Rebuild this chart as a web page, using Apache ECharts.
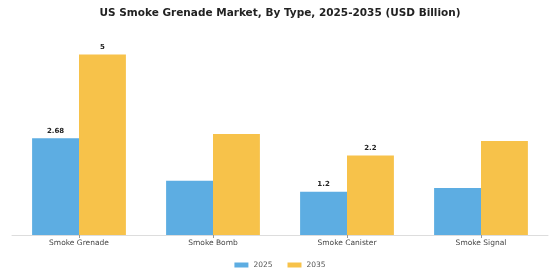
<!DOCTYPE html>
<html>
<head>
<meta charset="utf-8">
<script src="https://cdn.jsdelivr.net/npm/echarts@6/dist/echarts.min.js"></script>
<style>html,body{margin:0;padding:0;background:#fff}#c{width:560px;height:280px}</style>
</head>
<body>
<div id="c"></div>
<script>
const categories = ['Smoke Grenade', 'Smoke Bomb', 'Smoke Canister', 'Smoke Signal'];
const seriesNames = ['2025', '2035'];
const values2025 = [2.68, 1.5, 1.2, 1.3];
const values2035 = [5, 2.8, 2.2, 2.6];
const labeled2025 = [true, false, true, false];
const labeled2035 = [true, false, true, false];
const colors = ['#5DADE2', '#F7C24A'];

function toData(vals, flags) {
  return vals.map((v, i) => ({ value: v, label: { show: flags[i] } }));
}

const chart = echarts.init(document.getElementById('c'), null, { renderer: 'canvas' });
const labelStyle = {
  position: 'top', fontSize: 7, fontWeight: 'bold', color: '#222',
  fontFamily: 'DejaVu Sans', distance: 4
};
chart.setOption({
  animation: false,
  backgroundColor: '#fff',
  title: {
    text: 'US Smoke Grenade Market, By Type, 2025-2035 (USD Billion)',
    left: 'center', top: 3,
    textStyle: { fontSize: 10.5, fontWeight: 'bold', color: '#222', fontFamily: 'DejaVu Sans' }
  },
  legend: {
    data: seriesNames,
    bottom: 6, left: 'center',
    itemWidth: 14, itemHeight: 5, itemGap: 15,
    icon: 'rect',
    textStyle: { fontSize: 7.5, color: '#555', fontFamily: 'DejaVu Sans' }
  },
  grid: { left: 12, right: 12, top: 36.4, bottom: 45, containLabel: false },
  xAxis: {
    type: 'category', data: categories,
    axisLine: { lineStyle: { color: '#ddd', width: 1 } },
    axisTick: { show: true, alignWithLabel: true, length: 3, lineStyle: { color: '#999' } },
    axisLabel: { fontSize: 7.5, color: '#444', fontFamily: 'DejaVu Sans', margin: 4 }
  },
  yAxis: { type: 'value', min: 0, max: 5.5, show: false, splitLine: { show: false } },
  series: [
    { name: seriesNames[0], type: 'bar', data: toData(values2025, labeled2025),
      itemStyle: { color: colors[0] }, barGap: '0%', barCategoryGap: '30%', label: labelStyle },
    { name: seriesNames[1], type: 'bar', data: toData(values2035, labeled2035),
      itemStyle: { color: colors[1] }, barGap: '0%', barCategoryGap: '30%', label: labelStyle }
  ]
});
</script>
</body>
</html>
